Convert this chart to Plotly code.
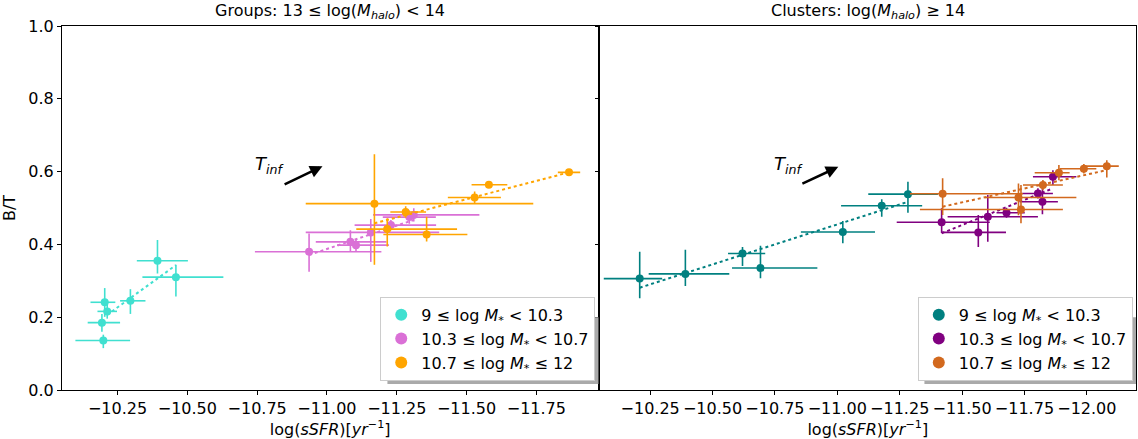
import plotly.graph_objects as go

# ---------------- data ----------------
# Left panel: Groups
cyan_x = [-10.393, -10.459, -10.296, -10.204, -10.213, -10.194, -10.199]
cyan_y = [0.355, 0.310, 0.245, 0.241, 0.216, 0.185, 0.136]
cyan_xplus = [0.074, 0.120, 0.037, 0.051, 0.035, 0.051, 0.100]
cyan_xminus = [0.109, 0.170, 0.054, 0.038, 0.035, 0.065, 0.096]
cyan_yplus = [0.057, 0.034, 0.032, 0.039, 0.020, 0.024, 0.016]
cyan_yminus = [0.035, 0.053, 0.036, 0.040, 0.020, 0.025, 0.021]
cyan_fit_x = [-10.212, -10.459]
cyan_fit_y = [0.206, 0.343]

orchid_x = [-10.936, -11.084, -11.104, -11.157, -11.229, -11.295, -11.311]
orchid_y = [0.380, 0.407, 0.398, 0.433, 0.453, 0.475, 0.481]
orchid_xplus = [0.194, 0.124, 0.068, 0.233, 0.130, 0.095, 0.146]
orchid_xminus = [0.259, 0.129, 0.118, 0.245, 0.162, 0.095, 0.235]
orchid_yplus = [0.050, 0.032, 0.016, 0.037, 0.014, 0.018, 0.018]
orchid_yminus = [0.055, 0.027, 0.018, 0.081, 0.014, 0.018, 0.018]
orchid_fit_x = [-10.936, -11.310]
orchid_fit_y = [0.371, 0.467]

orange_x = [-11.170, -11.282, -11.216, -11.357, -11.529, -11.580, -11.867]
orange_y = [0.512, 0.489, 0.442, 0.427, 0.529, 0.564, 0.598]
orange_xplus = [0.246, 0.055, 0.111, 0.155, 0.096, 0.062, 0.040]
orange_xminus = [0.569, 0.073, 0.250, 0.146, 0.094, 0.066, 0.040]
orange_yplus = [0.136, 0.016, 0.030, 0.049, 0.016, 0.008, 0.006]
orange_yminus = [0.168, 0.016, 0.048, 0.019, 0.016, 0.008, 0.006]
orange_fit_x = [-11.170, -11.867]
orange_fit_y = [0.458, 0.598]

# Right panel: Clusters
teal_x = [-10.208, -10.391, -10.620, -10.692, -11.022, -11.178, -11.283]
teal_y = [0.306, 0.319, 0.375, 0.335, 0.434, 0.506, 0.538]
teal_xplus = [0.144, 0.147, 0.058, 0.114, 0.168, 0.163, 0.159]
teal_xminus = [0.090, 0.176, 0.091, 0.228, 0.129, 0.162, 0.120]
teal_yplus = [0.074, 0.066, 0.018, 0.061, 0.030, 0.018, 0.034]
teal_yminus = [0.054, 0.033, 0.034, 0.028, 0.031, 0.030, 0.051]
teal_fit_x = [-10.208, -11.283]
teal_fit_y = [0.281, 0.517]

purple_x = [-11.418, -11.565, -11.603, -11.678, -11.822, -11.804, -11.864]
purple_y = [0.461, 0.433, 0.476, 0.487, 0.517, 0.540, 0.586]
purple_xplus = [0.180, 0.146, 0.161, 0.040, 0.084, 0.066, 0.080]
purple_xminus = [0.193, 0.111, 0.201, 0.073, 0.062, 0.060, 0.094]
purple_yplus = [0.038, 0.048, 0.060, 0.014, 0.041, 0.014, 0.018]
purple_yminus = [0.030, 0.040, 0.069, 0.014, 0.034, 0.014, 0.023]
purple_fit_x = [-11.418, -11.864]
purple_fit_y = [0.4305, 0.554]

choc_x = [-11.422, -11.726, -11.736, -11.824, -11.888, -11.988, -12.080]
choc_y = [0.539, 0.529, 0.496, 0.563, 0.597, 0.608, 0.615]
choc_xplus = [0.131, 0.135, 0.405, 0.080, 0.097, 0.097, 0.089]
choc_xminus = [0.322, 0.232, 0.168, 0.080, 0.043, 0.050, 0.048]
choc_yplus = [0.043, 0.038, 0.067, 0.014, 0.021, 0.013, 0.016]
choc_yminus = [0.058, 0.049, 0.038, 0.014, 0.021, 0.013, 0.031]
choc_fit_x = [-11.422, -12.080]
choc_fit_y = [0.5036, 0.604]

labels = ["9 ≤ log <i>M</i><sub>*</sub> &lt; 10.3",
          "10.3 ≤ log <i>M</i><sub>*</sub> &lt; 10.7",
          "10.7 ≤ log <i>M</i><sub>*</sub> ≤ 12"]

left_ticks = [-10.25, -10.50, -10.75, -11.00, -11.25, -11.50, -11.75]
right_ticks = [-10.25, -10.50, -10.75, -11.00, -11.25, -11.50, -11.75, -12.00]
y_ticks = [0.0, 0.2, 0.4, 0.6, 0.8, 1.0]

# ---------------- figure ----------------
FONT = "DejaVu Sans"
fig = go.Figure()


def add_series(x, y, xp, xm, yp, ym, fx, fy, color, name, xa, ya, legend):
    fig.add_trace(go.Scatter(
        x=x, y=y, mode="markers", name=name, legend=legend,
        xaxis=xa, yaxis=ya,
        marker=dict(color=color, size=8, line=dict(width=0)),
        error_x=dict(type="data", symmetric=False, array=xp, arrayminus=xm,
                     color=color, thickness=1.6, width=0),
        error_y=dict(type="data", symmetric=False, array=yp, arrayminus=ym,
                     color=color, thickness=1.6, width=0),
    ))
    fig.add_trace(go.Scatter(
        x=fx, y=fy, mode="lines", showlegend=False, xaxis=xa, yaxis=ya,
        line=dict(color=color, width=2, dash="dot"),
    ))


add_series(cyan_x, cyan_y, cyan_xplus, cyan_xminus, cyan_yplus, cyan_yminus,
           cyan_fit_x, cyan_fit_y, "#40e0d0", labels[0], "x", "y", "legend")
add_series(orchid_x, orchid_y, orchid_xplus, orchid_xminus, orchid_yplus, orchid_yminus,
           orchid_fit_x, orchid_fit_y, "#da70d6", labels[1], "x", "y", "legend")
add_series(orange_x, orange_y, orange_xplus, orange_xminus, orange_yplus, orange_yminus,
           orange_fit_x, orange_fit_y, "#ffa500", labels[2], "x", "y", "legend")

add_series(teal_x, teal_y, teal_xplus, teal_xminus, teal_yplus, teal_yminus,
           teal_fit_x, teal_fit_y, "#008080", labels[0], "x2", "y2", "legend2")
add_series(purple_x, purple_y, purple_xplus, purple_xminus, purple_yplus, purple_yminus,
           purple_fit_x, purple_fit_y, "#800080", labels[1], "x2", "y2", "legend2")
add_series(choc_x, choc_y, choc_xplus, choc_xminus, choc_yplus, choc_yminus,
           choc_fit_x, choc_fit_y, "#d2691e", labels[2], "x2", "y2", "legend2")


def fmt(v):
    return ("−" if v < 0 else "") + f"{abs(v):.2f}"


axis_common = dict(showline=True, linecolor="black", linewidth=1, mirror=True,
                   ticks="outside", ticklen=4, tickcolor="black", showgrid=False,
                   zeroline=False, tickfont=dict(family=FONT, size=16, color="black"))

xtitle = "log(<i>sSFR</i>)[<i>yr</i><sup>−1</sup>]"

fig.update_layout(
    width=1138, height=439,
    margin=dict(l=62, r=2, t=26, b=49),
    paper_bgcolor="white", plot_bgcolor="white",
    font=dict(family=FONT, size=16, color="black"),
    xaxis=dict(domain=[0, 0.4995], range=[-10.051, -11.9725],
               tickvals=left_ticks, ticktext=[fmt(v) for v in left_ticks],
               title=dict(text=xtitle, font=dict(size=16), standoff=0), **axis_common),
    yaxis=dict(domain=[0, 1], range=[0, 1], tickvals=y_ticks,
               ticktext=[f"{v:.1f}" for v in y_ticks],
               title=dict(text="B/T", font=dict(size=16), standoff=8), **axis_common),
    xaxis2=dict(domain=[0.5005, 1], range=[-10.047, -12.197], anchor="y2",
                tickvals=right_ticks, ticktext=[fmt(v) for v in right_ticks],
                title=dict(text=xtitle, font=dict(size=16), standoff=0), **axis_common),
    yaxis2=dict(domain=[0, 1], range=[0, 1], anchor="x2", tickvals=y_ticks,
                showticklabels=False, **axis_common),
    legend=dict(x=0.4965, y=0.025, xanchor="right", yanchor="bottom",
                bgcolor="white", bordercolor="#cccccc", borderwidth=1,
                font=dict(family=FONT, size=16), itemsizing="constant",
                tracegroupgap=0),
    legend2=dict(x=0.997, y=0.025, xanchor="right", yanchor="bottom",
                 bgcolor="white", bordercolor="#cccccc", borderwidth=1,
                 font=dict(family=FONT, size=16), itemsizing="constant",
                 tracegroupgap=0),
    showlegend=True,
)

# legend shadows (matplotlib-style, offset right/down)
for x0, x1 in [(0.303, 0.4995), (0.803, 1.0)]:
    fig.add_shape(type="rect", xref="paper", yref="paper", x0=x0, x1=x1,
                  y0=0.0165, y1=0.2, fillcolor="#aaaaaa", line=dict(width=0),
                  layer="above")

# subplot titles
fig.add_annotation(text="Groups: 13 ≤ log(<i>M</i><sub><i>halo</i></sub>) &lt; 14",
                   xref="x domain", yref="paper", x=0.5, y=1, yanchor="bottom",
                   yshift=2, showarrow=False, font=dict(family=FONT, size=16))
fig.add_annotation(text="Clusters: log(<i>M</i><sub><i>halo</i></sub>) ≥ 14",
                   xref="x2 domain", yref="paper", x=0.5, y=1, yanchor="bottom",
                   yshift=2, showarrow=False, font=dict(family=FONT, size=16))

# T_inf arrows
for xa, ya, tx, ty, hx, hy, lx, ly in [
    ("x", "y", -10.843, 0.563, -10.984, 0.615, -10.795, 0.618),
    ("x2", "y2", -10.854, 0.565, -11.004, 0.613, -10.803, 0.618),
]:
    fig.add_annotation(xref=xa, yref=ya, axref=xa, ayref=ya, x=hx, y=hy, ax=tx, ay=ty,
                       showarrow=True, arrowhead=2, arrowsize=1, arrowwidth=2.5,
                       arrowcolor="black", text="")
    fig.add_annotation(xref=xa, yref=ya, x=lx, y=ly, showarrow=False,
                       text="<i>T</i><sub><i>inf</i></sub>",
                       font=dict(family=FONT, size=18, color="black"))

fig.write_html("out.html",
               config={"displayModeBar": False},
               post_script="document.body.style.margin='0';"
                           "document.body.style.overflow='hidden';")
